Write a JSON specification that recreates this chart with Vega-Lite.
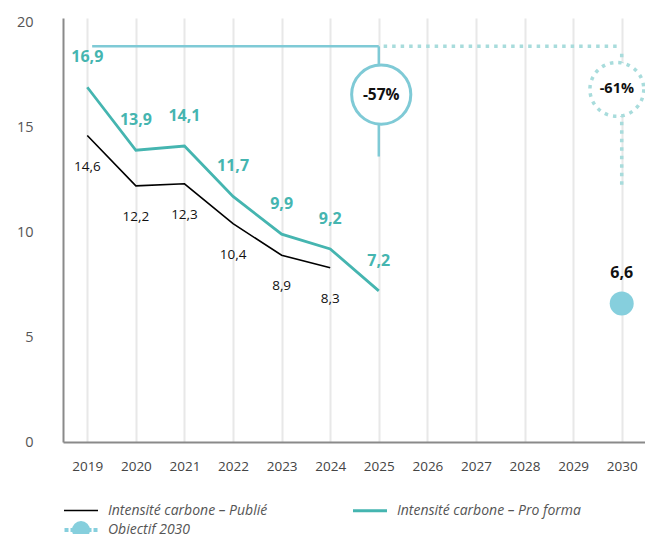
{
  "$schema": "https://vega.github.io/schema/vega-lite/v6.json",
  "width": 583,
  "height": 424,
  "autosize": {"type": "none"},
  "padding": {"left": 63, "top": 18, "right": 0, "bottom": 92},
  "background": "white",
  "config": {
    "view": {"stroke": null},
    "font": "Open Sans",
    "locale": {"number": {"decimal": ",", "thousands": " ", "grouping": [3], "currency": ["", " €"]}},
    "axis": {"labelFont": "Open Sans", "domainColor": "#8a8a8a", "domainWidth": 2, "ticks": false, "title": null}
  },
  "datasets": {
    "main": [
      {"year": 2019, "serie": "Intensité carbone – Publié", "value": 14.6},
      {"year": 2020, "serie": "Intensité carbone – Publié", "value": 12.2},
      {"year": 2021, "serie": "Intensité carbone – Publié", "value": 12.3},
      {"year": 2022, "serie": "Intensité carbone – Publié", "value": 10.4},
      {"year": 2023, "serie": "Intensité carbone – Publié", "value": 8.9},
      {"year": 2024, "serie": "Intensité carbone – Publié", "value": 8.3},
      {"year": 2019, "serie": "Intensité carbone – Pro forma", "value": 16.9},
      {"year": 2020, "serie": "Intensité carbone – Pro forma", "value": 13.9},
      {"year": 2021, "serie": "Intensité carbone – Pro forma", "value": 14.1},
      {"year": 2022, "serie": "Intensité carbone – Pro forma", "value": 11.7},
      {"year": 2023, "serie": "Intensité carbone – Pro forma", "value": 9.9},
      {"year": 2024, "serie": "Intensité carbone – Pro forma", "value": 9.2},
      {"year": 2025, "serie": "Intensité carbone – Pro forma", "value": 7.2},
      {"year": 2030, "serie": "Objectif 2030", "value": 6.6}
    ]
  },
  "encoding": {
    "x": {"field": "year", "type": "quantitative", "scale": {"domain": [2018.5, 2030.5], "nice": false, "zero": false},
      "axis": {"values": [2019, 2020, 2021, 2022, 2023, 2024, 2025, 2026, 2027, 2028, 2029, 2030], "format": "d", "grid": true, "gridColor": "#e8e8e8", "gridWidth": 2, "labelFontSize": 13.5, "labelColor": "#444", "labelPadding": 17, "title": null}},
    "y": {"field": "value", "type": "quantitative", "scale": {"domain": [0, 20.2], "nice": false},
      "axis": {"values": [0, 5, 10, 15, 20], "grid": false, "labelFontSize": 14.5, "labelColor": "#555", "labelPadding": 30, "title": null}}
  },
  "layer": [
    {
      "data": {"values": [{"year": 2019.1, "year2": 2025, "value": 18.85}]},
      "mark": {"type": "rule", "color": "#7fcad6", "strokeWidth": 2.5},
      "encoding": {"x2": {"field": "year2"}}
    },
    {
      "data": {"values": [{"year": 2025, "value": 18.85, "value2": 13.6}]},
      "mark": {"type": "rule", "color": "#7fcad6", "strokeWidth": 2.5},
      "encoding": {"y2": {"field": "value2"}}
    },
    {
      "data": {"values": [{"year": 2025.1, "year2": 2029.95, "value": 18.85}]},
      "mark": {"type": "rule", "color": "#a8dcdc", "strokeWidth": 3.5, "strokeDash": [3.5, 5]},
      "encoding": {"x2": {"field": "year2"}}
    },
    {
      "data": {"values": [{"year": 2030, "value": 18.5, "value2": 12.1}]},
      "mark": {"type": "rule", "color": "#a8dcdc", "strokeWidth": 3.5, "strokeDash": [3.5, 5]},
      "encoding": {"y2": {"field": "value2"}}
    },
    {
      "data": {"values": [{"year": 2025.05, "value": 16.55}]},
      "mark": {"type": "point", "shape": "circle", "size": 3500, "filled": false, "fill": "white", "fillOpacity": 1, "stroke": "#7fcad6", "strokeWidth": 3, "opacity": 1}
    },
    {
      "data": {"values": [{"year": 2029.9, "value": 16.8}]},
      "mark": {"type": "point", "shape": "circle", "size": 2900, "filled": false, "fill": "white", "fillOpacity": 1, "stroke": "#a8dcdc", "strokeWidth": 3.5, "strokeDash": [3.5, 5], "opacity": 1}
    },
    {
      "data": {"values": [{"year": 2025.05, "value": 16.55, "label": "-57%"}]},
      "mark": {"type": "text", "font": "Open Sans", "fontWeight": "bold", "fontSize": 15.5, "color": "#111"},
      "encoding": {"text": {"field": "label"}}
    },
    {
      "data": {"values": [{"year": 2029.9, "value": 16.8, "label": "-61%"}]},
      "mark": {"type": "text", "font": "Open Sans", "fontWeight": "bold", "fontSize": 14.5, "color": "#111"},
      "encoding": {"text": {"field": "label"}}
    },
    {
      "data": {"name": "main"},
      "mark": {"type": "line", "strokeJoin": "miter"},
      "encoding": {
        "color": {"field": "serie", "type": "nominal",
          "scale": {"domain": ["Intensité carbone – Publié", "Intensité carbone – Pro forma", "Objectif 2030"], "range": ["#000000", "#45b5b0", "#86cfdd"]},
          "legend": {
            "orient": "none", "legendX": 6, "legendY": 481, "columns": 2, "direction": "horizontal",
            "title": null, "padding": 0, "columnPadding": 79, "rowPadding": -4,
            "symbolSize": 400, "labelOffset": 15, "labelLimit": 400,
            "labelFont": "Open Sans", "labelFontStyle": "italic", "labelFontSize": 14, "labelColor": "#555",
            "encode": {"symbols": {"update": {
              "shape": {"signal": "datum.value === 'Objectif 2030' ? 'M-1.65,0H-1.25M-1.05,0H-0.7M0.7,0H1.05M1.25,0H1.65M-0.7,0A0.7,0.7 0 1,0 0.7,0A0.7,0.7 0 1,0 -0.7,0Z' : 'M-1.7,0H1.7'"},
              "strokeWidth": {"signal": "datum.value === 'Intensité carbone – Pro forma' ? 4 : (datum.value === 'Objectif 2030' ? 1.2 : 2)"},
              "fill": {"signal": "datum.value === 'Objectif 2030' ? '#86cfdd' : 'transparent'"},
              "opacity": {"value": 1}
            }}}
          }},
        "strokeWidth": {"field": "serie", "type": "nominal",
          "scale": {"domain": ["Intensité carbone – Publié", "Intensité carbone – Pro forma", "Objectif 2030"], "range": [1.6, 4, 2]},
          "legend": null}
      }
    },
    {
      "data": {"name": "main"},
      "transform": [{"filter": "datum.serie === 'Objectif 2030'"}],
      "mark": {"type": "circle", "size": 576, "color": "#86cfdd", "opacity": 1}
    },
    {
      "data": {"name": "main"},
      "transform": [{"filter": "datum.serie === 'Intensité carbone – Pro forma'"}],
      "mark": {"type": "text", "dy": -30, "font": "Open Sans", "fontWeight": "bold", "fontSize": 16, "color": "#45b5b0"},
      "encoding": {"text": {"field": "value", "type": "quantitative", "format": ".1f"}}
    },
    {
      "data": {"name": "main"},
      "transform": [{"filter": "datum.serie === 'Intensité carbone – Publié'"}],
      "mark": {"type": "text", "dy": 31, "font": "Open Sans", "fontSize": 13.5, "color": "#111"},
      "encoding": {"text": {"field": "value", "type": "quantitative", "format": ".1f"}}
    },
    {
      "data": {"name": "main"},
      "transform": [{"filter": "datum.serie === 'Objectif 2030'"}],
      "mark": {"type": "text", "dy": -30, "font": "Open Sans", "fontWeight": "bold", "fontSize": 16, "color": "#111"},
      "encoding": {"text": {"field": "value", "type": "quantitative", "format": ".1f"}}
    }
  ]
}
